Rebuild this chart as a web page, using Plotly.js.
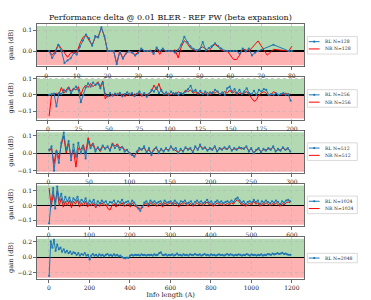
<!DOCTYPE html>
<html><head><meta charset="utf-8">
<script src="https://cdn.plot.ly/plotly-3.0.1.min.js"></script>
<style>html,body{margin:0;padding:0;background:#fff;} #chart{width:371px;height:300px;}</style>
</head><body><div id="chart"></div>
<script>
// ---------- DATA ----------
const panelNames = ["128", "256", "512", "1024", "2048"];
const seriesRL = "RL N=";
const seriesNR = "NR N=";
const yTitle = "gain (dB)";
const xTitle = "Info length (A)";

// N=128 (explicit info lengths)
const rl128_x = [1,2,3,4,5,6,7,8,9,10,11,12,13,14,15,16,17,18,19,20,21,22,23,24,25,26,27,28,29,30,31,32,33,34,35,36,37,38,39,40,41,42,43,44,45,46,47,48,49,50,51,52,53,54,55,56,57,58,59,60,61,62,63,64,65,66,67,68,69,74,79,80];
const rl128_y = [0.0,-0.033,-0.01,0.03,0.0,-0.057,-0.045,-0.035,-0.01,-0.017,0.02,0.05,0.078,0.06,0.025,0.071,0.065,0.113,0.07,0.0,0.0,0.0,-0.063,-0.004,-0.037,-0.012,-0.002,-0.008,-0.022,-0.01,0.011,0.0,0.0,0.0,-0.014,0.016,0.001,0.011,0.0,0.0,0.0,-0.008,0.005,0.03,0.068,0.043,0.022,0.01,0.003,0.006,0.043,0.003,0.014,0.022,0.037,0.024,0.012,0.002,0.0,0.0,0.0,0.0,-0.013,0.011,-0.002,0.011,-0.021,-0.008,0.0,0.03,0.0,0.0];
const nr128_x = [1,2,3,4,5,6,7,8,9,10,11,12,13,14,15,16,17,18,19,20,21,22,23,24,25,26,27,28,29,30,31,32,33,34,35,36,37,38,39,40,41,42,43,44,45,46,47,48,49,50,51,52,53,54,55,56,57,58,59,60,61,62,63,64,65,66,67,68,69,70,71,72,74,79,80];
const nr128_y = [0.0,-0.02,0.0,0.032,0.012,-0.01,-0.03,-0.01,-0.005,-0.01,0.035,0.065,0.076,0.05,0.028,0.065,0.07,0.11,0.07,0.0,0.0,0.0,-0.06,0.0,-0.035,-0.01,0.0,-0.005,-0.018,-0.005,0.01,0.002,0.0,0.004,-0.01,0.012,-0.016,0.008,0.0,0.0,-0.003,0.006,-0.033,0.02,0.05,0.035,0.014,0.006,0.0,0.012,0.02,0.01,-0.001,0.02,0.032,0.02,0.006,0.0,0.0,-0.02,-0.04,-0.041,-0.02,0.01,0.004,0.0,0.015,0.03,0.048,0.025,0.005,-0.02,0.008,0.0,0.023];

// N=256 (info length 1,3,5,...)
const n256_start = 1, n256_step = 2;
const rl256_y = [0.0,0.005,0.008,-0.07,0.01,0.005,0.03,0.02,0.04,0.01,
 0.035,0.05,0.03,-0.045,0.0,0.045,0.07,0.05,0.075,0.06,
 0.07,0.04,0.075,0.005,-0.01,0.01,-0.005,0.008,0.0,0.012,
 -0.01,0.005,0.015,0.0,0.01,-0.008,0.006,0.02,0.0,0.01,
 -0.012,0.005,0.03,0.02,0.045,0.01,0.03,0.005,0.015,0.0,
 0.02,0.005,0.01,0.0,0.01,0.005,0.02,0.035,0.055,0.02,
 0.03,0.01,0.025,0.005,0.02,0.0,0.015,0.01,0.03,0.02,
 0.005,0.015,0.0,0.04,0.05,0.02,0.035,0.01,0.03,0.005,
 0.02,0.04,0.01,0.005,0.025,0.0,0.03,0.02,0.035,0.03,
 0.0,0.005,0.0,0.01,0.0,0.005,0.01,0.0,0.005,-0.035];
const nr256_y = [-0.13,0.0,0.005,0.01,0.0,0.045,0.01,0.03,0.05,0.02,
 0.04,0.03,0.05,0.0,0.04,0.06,0.045,0.07,0.05,0.065,
 0.08,0.05,0.085,-0.025,0.0,-0.01,0.005,-0.005,0.01,0.0,
 0.005,-0.01,0.0,0.01,-0.005,0.005,0.0,0.01,-0.01,0.005,
 0.0,0.01,0.02,0.06,0.03,0.07,0.02,0.01,0.0,0.01,
 0.0,0.015,0.0,0.02,0.005,0.01,0.03,0.02,0.03,0.01,
 0.02,0.0,0.015,0.01,0.005,0.015,0.0,0.02,0.01,0.025,
 0.0,0.01,0.02,0.01,0.03,0.01,0.02,0.0,0.015,0.005,
 0.01,0.02,0.0,-0.02,-0.04,-0.03,0.0,0.01,0.02,0.01,
 -0.005,0.0,0.02,0.01,0.0,0.005,0.0,0.01,0.0,0.005];

// N=512 (info length 1,4,7,...)
const n512_start = 1, n512_step = 3;
const rl512_y = [0.02,0.04,-0.1,0.01,-0.055,0.06,0.12,0.02,0.07,-0.04,
 0.05,-0.02,0.06,0.0,0.04,-0.03,0.07,0.03,0.05,0.01,
 0.035,0.02,0.045,0.025,0.04,0.015,0.05,0.03,0.045,0.02,
 0.035,0.01,0.02,0.0,-0.01,-0.02,0.01,0.03,0.02,0.04,
 0.005,0.03,-0.01,0.02,0.035,0.0,0.025,0.01,0.03,0.015,
 0.04,0.02,0.03,0.0,0.025,0.01,0.035,0.02,0.03,0.005,
 0.04,0.02,0.05,0.025,0.035,0.015,0.03,0.02,0.04,0.01,
 0.03,0.02,0.035,0.025,0.04,0.015,0.03,0.02,0.035,0.03,
 0.025,0.04,0.01,0.03,0.0,0.02,0.03,0.005,0.025,0.015,
 0.03,0.02,0.04,0.01,0.025,0.015,0.035,0.02,0.03,0.01];
const nr512_y = [0.01,0.03,-0.06,0.02,-0.03,0.05,0.1,0.0,0.06,-0.02,
 0.02,-0.08,0.03,0.02,0.05,0.0,0.09,0.04,0.06,0.02,
 0.03,0.01,0.04,0.03,0.035,0.02,0.06,0.04,0.055,0.03,
 0.04,0.02,0.015,0.005,-0.005,-0.015,0.0,0.02,0.025,0.03,
 0.01,0.02,0.0,0.025,0.03,0.01,0.02,0.015,0.025,0.02,
 0.035,0.025,0.02,0.005,0.02,0.015,0.03,0.025,0.025,0.01,
 0.035,0.025,0.04,0.03,0.03,0.02,0.025,0.025,0.035,0.015,
 0.025,0.025,0.03,0.02,0.035,0.02,0.025,0.025,0.03,0.025,
 0.03,0.035,0.015,0.025,0.005,0.015,0.025,0.01,0.02,0.02,
 0.025,0.025,0.035,0.015,0.02,0.02,0.03,0.02,0.025,0.015];

// N=1024 (info length 1,6,11,...)
const n1024_start = 1, n1024_step = 5;
const rl1024_y = [-0.12,0.03,0.12,-0.02,0.13,0.04,0.08,0.02,0.06,0.03,
 0.055,0.02,0.05,0.035,0.06,0.02,0.04,0.025,0.05,0.01,
 0.035,0.02,0.04,0.0,0.03,0.015,0.035,0.02,0.03,0.005,
 0.025,0.02,0.035,0.01,0.03,0.02,0.04,0.015,0.025,0.03,
 0.01,0.035,0.02,0.0,-0.02,-0.035,-0.01,0.02,0.03,0.01,
 0.035,0.02,0.03,0.015,0.025,0.03,0.01,0.035,0.02,0.025,
 0.03,0.015,0.035,0.02,0.01,0.03,0.025,0.035,0.015,0.02,
 0.03,0.01,0.025,0.035,0.02,0.03,0.015,0.025,0.04,0.02,
 0.03,0.01,0.025,0.035,0.02,0.03,0.015,0.025,0.03,0.02,
 0.035,0.025,0.045,0.055,0.035,0.02,0.03,0.01,0.025,0.03,
 0.02,0.04,0.025,0.035,0.01,0.03,0.02,0.035,0.025,0.015,
 0.03,0.02,0.035,0.025,0.01,0.03,0.02,0.035,0.04,0.03];
const nr1024_y = [0.12,-0.01,0.08,0.02,0.1,0.0,0.05,-0.01,0.03,0.0,
 0.035,-0.015,0.03,0.01,0.04,-0.01,0.02,0.0,0.03,-0.01,
 0.015,0.0,0.02,-0.015,0.01,-0.005,0.02,0.0,0.01,-0.02,
 -0.03,0.0,0.015,-0.01,0.01,0.0,0.02,-0.005,0.005,0.015,
 -0.01,0.02,0.0,-0.01,-0.015,-0.02,-0.005,0.01,0.015,-0.01,
 0.02,0.005,0.015,-0.005,0.01,0.015,-0.01,0.02,0.005,0.01,
 0.02,0.0,0.02,0.005,-0.01,0.015,0.01,0.02,0.0,0.005,
 0.015,-0.005,0.01,0.02,0.005,0.015,0.0,0.01,0.025,0.005,
 0.015,-0.005,0.01,0.02,0.005,0.015,0.0,0.01,0.015,0.005,
 0.02,0.01,0.03,0.04,0.02,0.005,0.015,-0.005,0.01,0.015,
 0.005,0.03,0.01,0.02,-0.005,0.015,0.005,0.02,0.01,0.0,
 0.015,0.005,0.02,0.01,-0.005,0.015,0.005,0.02,0.025,0.02];

// N=2048 (info length 1,9,17,...)
const n2048_start = 1, n2048_step = 8;
const rl2048_y = [-0.24,0.2,0.12,0.22,0.08,0.16,0.1,0.12,0.07,0.1,
 0.06,0.08,0.05,0.07,0.04,0.06,0.05,0.03,0.05,0.02,
 0.04,0.03,0.05,0.02,0.03,-0.03,0.02,0.04,0.02,0.03,
 0.01,0.035,0.02,0.03,0.01,0.03,0.04,0.02,0.03,0.015,
 0.035,0.02,0.03,0.01,0.02,0.0,-0.01,-0.015,-0.005,-0.01,
 0.02,0.03,0.02,0.03,0.025,0.03,0.02,0.035,0.025,0.03,
 0.02,0.03,0.025,0.03,0.02,0.035,0.025,0.03,0.05,0.06,
 0.03,0.025,0.035,0.02,0.03,0.025,0.035,0.02,0.03,0.045,
 0.025,0.03,0.02,0.035,0.025,0.03,0.02,0.035,0.03,0.025,
 0.04,0.03,0.025,0.035,0.02,0.03,0.04,0.025,0.03,0.02,
 0.035,0.025,0.03,0.02,0.03,0.035,0.025,0.03,0.02,0.03,
 0.04,0.025,0.035,0.03,0.02,0.03,0.025,0.035,0.03,0.02,
 0.03,0.025,0.04,0.03,0.02,0.035,0.025,0.03,0.02,0.03,
 0.025,0.035,0.02,0.03,0.025,0.04,0.035,0.03,0.045,0.035,
 0.04,0.05,0.04,0.045,0.055,0.04,0.045,0.035,0.03,0.03];

// ---------- BUILD ----------
function positions(start, step, n) { const a = []; for (let i = 0; i < n; i++) a.push(start + i * step); return a; }

const panels = [
  {name: panelNames[0], rlx: rl128_x, rly: rl128_y, nrx: nr128_x, nry: nr128_y,
   xr: [-2.95, 83.95], xd: 10, yr: [-0.074, 0.129], yd: 0.1},
  {name: panelNames[1], rlx: positions(n256_start, n256_step, rl256_y.length), rly: rl256_y,
   nrx: positions(n256_start, n256_step, nr256_y.length), nry: nr256_y,
   xr: [-8.95, 209.95], xd: 25, yr: [-0.152, 0.108], yd: 0.1},
  {name: panelNames[2], rlx: positions(n512_start, n512_step, rl512_y.length), rly: rl512_y,
   nrx: positions(n512_start, n512_step, nr512_y.length), nry: nr512_y,
   xr: [-13.95, 314.95], xd: 50, yr: [-0.113, 0.132], yd: 0.1},
  {name: panelNames[3], rlx: positions(n1024_start, n1024_step, rl1024_y.length), rly: rl1024_y,
   nrx: positions(n1024_start, n1024_step, nr1024_y.length), nry: nr1024_y,
   xr: [-28.95, 629.95], xd: 100, yr: [-0.139, 0.150], yd: 0.1},
  {name: panelNames[4], rlx: positions(n2048_start, n2048_step, rl2048_y.length), rly: rl2048_y,
   nrx: null, nry: null,
   xr: [-58.95, 1259.95], xd: 200, yr: [-0.278, 0.259], yd: 0.2}
];

const W = 371, H = 300, ML = 37, MR = 67, MT = 24, MB = 21;
const PW = W - ML - MR, PH = H - MT - MB;
const pxX = v => (v - ML) / PW;
const pxY = v => (H - MB - v) / PH;
const FONT = "DejaVu Serif, serif";
const BLUE = "#1f77b4", RED = "#ff0000";

const data = [], shapes = [], annotations = [];
const layout = {
  width: W, height: H, autosize: false,
  margin: {l: ML, r: MR, t: MT, b: MB, pad: 0},
  paper_bgcolor: "#ffffff", plot_bgcolor: "#ffffff",
  showlegend: false,
  font: {family: FONT, color: "#222", size: 6.5},
  title: {text: "Performance delta @ 0.01 BLER - REF PW (beta expansion)",
          font: {family: FONT, size: 8, color: "#111"},
          x: 0.5, xref: "paper", xanchor: "center", y: 1 - 17 / H, yref: "container", yanchor: "middle"}
};

panels.forEach((p, i) => {
  const k = i === 0 ? "" : String(i + 1);
  const topPx = MT + i * 53.2, botPx = topPx + 42.5;
  const xa = "x" + k, ya = "y" + k;
  const axCommon = {
    showline: true, mirror: true, linecolor: "#444", linewidth: 0.8,
    ticks: "outside", ticklen: 3, tickwidth: 0.8, tickcolor: "#444",
    showgrid: true, gridcolor: "#b8b8b8", griddash: "dot", gridwidth: 0.7,
    tickfont: {family: FONT, size: 6, color: "#222"}
  };
  layout["xaxis" + k] = Object.assign({}, axCommon, {
    domain: [0, 1], anchor: ya, range: p.xr, tick0: 0, dtick: p.xd, zeroline: false,
    title: i === 4 ? {text: xTitle, font: {family: FONT, size: 6.6, color: "#222"}, standoff: 2} : {text: ""}
  });
  layout["yaxis" + k] = Object.assign({}, axCommon, {
    domain: [pxY(botPx), pxY(topPx)], anchor: xa, range: p.yr, tick0: 0, dtick: p.yd,
    tickformat: ".1f", zeroline: true, zerolinecolor: "#000", zerolinewidth: 1.3,
    title: {text: ""}
  });
  // y title placed beside the tick labels
  annotations.push({text: yTitle, xref: "paper", yref: "paper", x: pxX(11), y: pxY((topPx + botPx) / 2),
                    xanchor: "center", yanchor: "middle", textangle: -90, showarrow: false,
                    font: {family: FONT, size: 6.6, color: "#222"}, borderpad: 0});
  const span = p.yr[1] - p.yr[0];
  shapes.push({type: "rect", xref: xa + " domain", yref: ya, x0: 0, x1: 1, y0: 0, y1: p.yr[1] - 0.045 * span,
               fillcolor: "rgba(0,128,0,0.3)", line: {width: 0}, layer: "below"});
  shapes.push({type: "rect", xref: xa + " domain", yref: ya, x0: 0, x1: 1, y0: p.yr[0] + 0.03 * span, y1: 0,
               fillcolor: "rgba(255,0,0,0.3)", line: {width: 0}, layer: "below"});

  if (p.nrx) {
    data.push({type: "scatter", mode: "lines", x: p.nrx, y: p.nry, xaxis: xa, yaxis: ya,
               name: seriesNR + p.name, line: {color: RED, width: 1}, hoverinfo: "skip"});
  }
  data.push({type: "scatter", mode: "lines+markers", x: p.rlx, y: p.rly, xaxis: xa, yaxis: ya,
             name: seriesRL + p.name, line: {color: BLUE, width: 1}, marker: {color: BLUE, size: 2.2}, hoverinfo: "skip"});

  // legend drawn beside the panel
  const c = (topPx + botPx) / 2;
  const entries = p.nrx ? [[seriesRL + p.name, BLUE, true], [seriesNR + p.name, RED, false]] : [[seriesRL + p.name, BLUE, true]];
  const bh = entries.length === 2 ? 17.6 : 9.4;
  shapes.push({type: "rect", xref: "paper", yref: "paper", x0: pxX(307.3), x1: pxX(357.3), y0: pxY(c + bh / 2), y1: pxY(c - bh / 2),
               fillcolor: "rgba(255,255,255,0.8)", line: {color: "#d0d0d0", width: 0.8}, layer: "above"});
  entries.forEach((e, j) => {
    const ey = entries.length === 2 ? (j === 0 ? c - 3.6 : c + 3.7) : c;
    shapes.push({type: "line", xref: "paper", yref: "paper", x0: pxX(308.8), x1: pxX(319.6), y0: pxY(ey), y1: pxY(ey),
                 line: {color: e[1], width: 1}, layer: "above"});
    if (e[2]) {
      shapes.push({type: "circle", xref: "paper", yref: "paper", x0: pxX(313.1), x1: pxX(315.3), y0: pxY(ey + 1.1), y1: pxY(ey - 1.1),
                   fillcolor: e[1], line: {width: 0}, layer: "above"});
    }
    annotations.push({text: e[0], xref: "paper", yref: "paper", x: pxX(323.5), y: pxY(ey), xanchor: "left", yanchor: "middle",
                      showarrow: false, font: {family: FONT, size: 4.6, color: "#222"}, borderpad: 0});
  });
});

layout.shapes = shapes;
layout.annotations = annotations;
Plotly.newPlot("chart", data, layout, {staticPlot: true, displayModeBar: false});
</script>
</body></html>
